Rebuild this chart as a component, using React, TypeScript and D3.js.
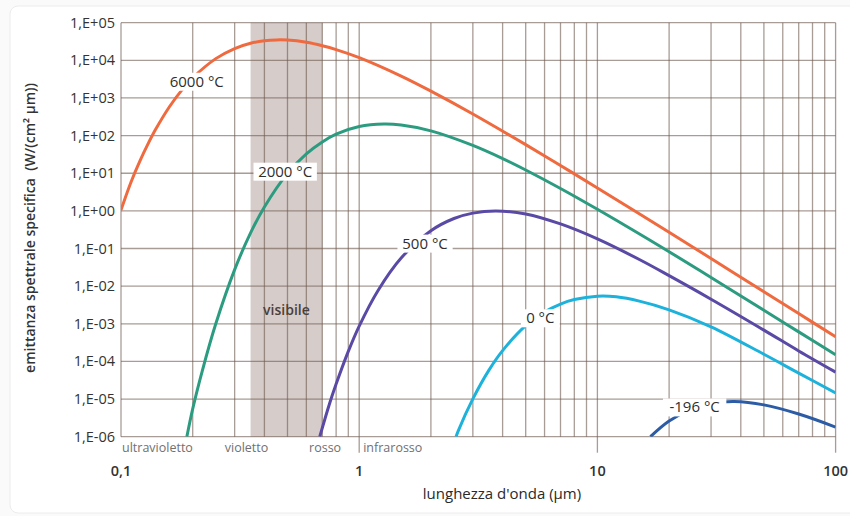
import React from "react";
import * as d3 from "d3";

// wavelengths (µm) and spectral emittance (W/(cm² µm))
const wl6000 = [0.1, 0.11, 0.12, 0.13, 0.14, 0.16, 0.18, 0.2, 0.25, 0.3, 0.35, 0.4, 0.45, 0.5, 0.6, 0.7, 0.8, 1, 1.5, 2, 3, 5, 7, 10, 20, 30, 50, 70, 100];
const em6000 = [1.05, 5.7, 21, 61, 149, 594, 1620, 3420, 11100, 20600, 28500, 33200, 34900, 34500, 30100, 24400, 19300, 11800, 3820, 1520, 376, 57.6, 16.1, 4.06, 0.269, 0.0543, 7.1e-3, 1.87e-3, 4.5e-4];

const wl2000 = [0.189, 0.2, 0.22, 0.25, 0.3, 0.35, 0.4, 0.5, 0.6, 0.7, 0.8, 1, 1.27, 1.5, 2, 3, 4, 5, 7, 10, 20, 30, 50, 70, 100];
const em2000 = [1.0e-6, 5.5e-6, 6.0e-5, 1.0e-3, 0.0275, 0.26, 1.27, 9.9, 32.8, 68, 109, 174, 203, 191, 134, 55, 24.6, 12.2, 3.94, 1.1, 0.082, 0.017, 2.3e-3, 6.1e-4, 1.5e-4];

const wl500 = [0.683, 0.75, 0.8, 0.9, 1.0, 1.2, 1.5, 2, 2.5, 3, 3.75, 5, 7, 10, 15, 20, 30, 50, 70, 100];
const em500 = [1.0e-6, 7.4e-6, 2.5e-5, 1.85e-4, 8.7e-4, 7.7e-3, 0.056, 0.297, 0.627, 0.873, 0.994, 0.83, 0.45, 0.18, 0.051, 0.019, 4.5e-3, 6.8e-4, 1.9e-4, 5.2e-5];

const wl0 = [2.55, 2.6, 3, 3.5, 4, 5, 6, 7, 8, 10, 12, 15, 20, 30, 50, 70, 100];
const em0 = [1.0e-6, 1.39e-6, 1.01e-5, 5.8e-5, 1.94e-4, 8.9e-4, 2.06e-3, 3.35e-3, 4.4e-3, 5.4e-3, 5.2e-3, 4.0e-3, 2.35e-3, 8.3e-4, 1.55e-4, 4.9e-5, 1.45e-5];

const wlM196 = [16.7, 20, 25, 30, 37.6, 50, 70, 100];
const emM196 = [1.0e-6, 2.6e-6, 5.5e-6, 7.6e-6, 8.6e-6, 7.0e-6, 4.0e-6, 1.8e-6];

const seriesNames = ["6000 °C", "2000 °C", "500 °C", "0 °C", "-196 °C"];
const seriesColors = ["#ef6a3e", "#2c9c80", "#5a4aa6", "#1db2dc", "#2d5ca6"];
const seriesWl = [wl6000, wl2000, wl500, wl0, wlM196];
const seriesEm = [em6000, em2000, em500, em0, emM196];
// label anchors in data units
const labelWl = [0.208, 0.489, 1.89, 5.76, 25.6];
const labelEm = [2700, 11, 0.135, 1.4e-3, 6e-6];

const yTicks = [1e5, 1e4, 1e3, 1e2, 1e1, 1, 1e-1, 1e-2, 1e-3, 1e-4, 1e-5, 1e-6];
const yTickLabels = ["1,E+05", "1,E+04", "1,E+03", "1,E+02", "1,E+01", "1,E+00", "1,E-01", "1,E-02", "1,E-03", "1,E-04", "1,E-05", "1,E-06"];
const xTicks = [0.1, 1, 10, 100];
const xTickLabels = ["0,1", "1", "10", "100"];

const visibleBand = [0.35, 0.7];
const regionNames = ["ultravioletto", "violetto", "rosso", "infrarosso"];
const regionAt = [0.1, 0.27, 0.61, 1.0];

const App = () => {
  const x = d3.scaleLog().domain([0.1, 100]).range([121, 835.6]);
  const y = d3.scaleLog().domain([1e-6, 1e5]).range([436.7, 22.7]);
  const [x0, x1] = x.range();
  const [yb, yt] = y.range();

  const gridX: number[] = [];
  [0.1, 1, 10].forEach((d) => {
    for (let k = 1; k < 10; k++) gridX.push(d * k);
  });
  gridX.push(100);

  const line = d3
    .line<[number, number]>()
    .x((d) => x(d[0]))
    .y((d) => y(d[1]))
    .curve(d3.curveCatmullRom.alpha(0.5));

  const font = "'Open Sans', 'DejaVu Sans', sans-serif";
  const gridColor = "#6e5a50";

  return (
    <svg
      width={850}
      height={516}
      style={{ position: "absolute", left: 0, top: 0, fontFamily: font }}
    >
      <rect x={0} y={0} width={850} height={516} fill="#fafafa" />
      <rect x={10} y={6} width={860} height={507} rx={8} fill="#fff" stroke="#ececec" />
      <defs>
        <clipPath id="plot">
          <rect x={x0} y={yt} width={x1 - x0} height={yb - yt} />
        </clipPath>
      </defs>

      <rect
        x={x(visibleBand[0])}
        y={yt}
        width={x(visibleBand[1]) - x(visibleBand[0])}
        height={yb - yt}
        fill="#d6ccc9"
      />

      {gridX.map((d, i) => (
        <line key={"gx" + i} x1={x(d)} x2={x(d)} y1={yt} y2={yb} stroke={gridColor} strokeOpacity={0.6} strokeWidth={1.3} />
      ))}
      {yTicks.map((d, i) => (
        <line key={"gy" + i} x1={x0} x2={x1} y1={y(d)} y2={y(d)} stroke={gridColor} strokeOpacity={0.6} strokeWidth={1.3} />
      ))}
      {xTicks.slice(1).map((d, i) => (
        <line key={"tk" + i} x1={x(d)} x2={x(d)} y1={yb} y2={yb + 16} stroke={gridColor} strokeOpacity={0.6} strokeWidth={1.3} />
      ))}

      <g clipPath="url(#plot)">
        {seriesWl.map((wl, i) => (
          <path
            key={"s" + i}
            d={line(wl.map((w, j) => [w, seriesEm[i][j]] as [number, number])) || ""}
            fill="none"
            stroke={seriesColors[i]}
            strokeWidth={3}
          />
        ))}
      </g>

      {seriesNames.map((name, i) => {
        const cx = x(labelWl[i]);
        const cy = y(labelEm[i]);
        const w = name.length * 8.2 + 6;
        return (
          <g key={"l" + i}>
            <rect x={cx - w / 2} y={cy - 9} width={w} height={18} fill="#fff" />
            <text x={cx} y={cy + 5} textAnchor="middle" fontSize={15} fill="#2e2e2e">
              {name}
            </text>
          </g>
        );
      })}

      <text
        x={x(Math.sqrt(visibleBand[0] * visibleBand[1]))}
        y={y(2.3e-3) + 5}
        textAnchor="middle"
        fontSize={14}
        fontWeight={600}
        fill="#4a3f3a"
      >
        visibile
      </text>

      {yTicks.map((d, i) => (
        <text key={"yt" + i} x={115} y={y(d) + 5} textAnchor="end" fontSize={14.5} fill="#333">
          {yTickLabels[i]}
        </text>
      ))}
      {xTicks.map((d, i) => (
        <text key={"xt" + i} x={x(d)} y={476} textAnchor="middle" fontSize={14.5} fontWeight={600} fill="#333">
          {xTickLabels[i]}
        </text>
      ))}
      {regionNames.map((name, i) => (
        <text key={"r" + i} x={x(regionAt[i]) + (i === 3 ? 4 : 1)} y={452} fontSize={12.5} fill="#707070">
          {name}
        </text>
      ))}

      <text x={502} y={499} textAnchor="middle" fontSize={15} fontWeight={500} fill="#2a2a2a">
        lunghezza d'onda (µm)
      </text>
      <text
        transform={`translate(35, 228) rotate(-90)`}
        textAnchor="middle"
        fontSize={14}
        fontWeight={600}
        fill="#333"
      >
        {"emittanza spettrale specifica\u00a0 (W/(cm² µm))"}
      </text>
    </svg>
  );
};

export default App;
